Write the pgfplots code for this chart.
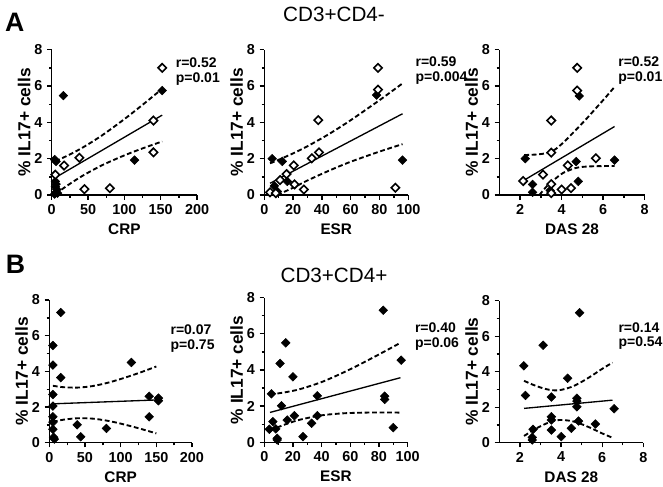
\documentclass[border=0pt]{standalone}
\usepackage{pgfplots}
\pgfplotsset{compat=1.18}
\usepackage{fontspec}
\setmainfont{Liberation Sans}
\tikzset{rp/.style={font=\fontsize{10.5}{12}\selectfont\bfseries, anchor=west, inner sep=0pt}}
\begin{document}
\begin{tikzpicture}
\path[use as bounding box] (0pt,0pt) rectangle (497.25pt,364.5pt);
\pgfplotsset{
  panel/.style={
    scale only axis,
    axis x line*=bottom, axis y line*=left,
    axis line style={line width=1.1pt,-},
    every tick/.style={black,line width=1pt},
    major tick length=3.5pt, minor tick length=2pt,
    tick align=outside,
    minor y tick num=1,
    ymin=0,ymax=8, ytick={0,2,4,6,8},
    /pgf/number format/assume math mode=true,
    ticklabel style={font=\fontsize{10.8}{12}\selectfont\bfseries},
    xlabel style={font=\fontsize{11.5}{13}\selectfont\bfseries},
    ylabel style={font=\fontsize{13}{15}\selectfont\bfseries},
    ylabel shift=-4pt,
    ylabel={\% IL17+ cells},
    clip=false,
  },
  filled/.style={only marks, mark=square*, mark size=2.3pt, mark options={rotate=45, fill=black, draw=black}},
  open/.style={only marks, mark=square*, mark size=2.2pt, mark options={rotate=45, fill=white, draw=black, line width=1.2pt}},
  fitline/.style={no marks, black, line width=1pt},
  band/.style={no marks, black, line width=1.4pt, dash pattern=on 3.6pt off 2pt, smooth},
}
\node[font=\fontsize{20}{22}\selectfont\bfseries, inner sep=0pt] at (11pt,347.6pt) {A};
\node[font=\fontsize{20}{22}\selectfont\bfseries, inner sep=0pt] at (11.6pt,166.5pt) {B};
\node[font=\fontsize{15.5}{17}\selectfont, inner sep=0pt] at (250.5pt,354pt) {CD3+CD4-};
\node[font=\fontsize{15.5}{17}\selectfont, inner sep=0pt] at (250.5pt,158.25pt) {CD3+CD4+};

% ---------- A1 CRP ----------
\begin{axis}[panel, at={(38.8pt,218.25pt)}, anchor=south west, width=109pt, height=109pt,
  xmin=0, xmax=200, xtick={0,50,100,150,200}, minor x tick num=1, xlabel={CRP}]
\addplot[band] coordinates {(5,1.857)(25,2.233)(45,2.668)(70,3.304)(100,4.178)(125,4.964)(152,5.846)};
\addplot[band] coordinates {(5,0.057)(25,0.617)(45,1.118)(70,1.652)(100,2.182)(125,2.566)(152,2.948)};
\addplot[fitline] coordinates {(5,0.957)(152,4.397)};
\addplot[filled] coordinates {(16,5.47)(152,5.75)(114,1.92)(4,1.95)(6,1.85)(5,0.75)(6,0.6)(5,0.45)(7,0.3)(6,0.15)(8,0.1)(4,0.05)};
\addplot[open] coordinates {(152,7.0)(140,4.1)(140,2.35)(38,2.05)(17,1.62)(5,1.12)(45,0.32)(80,0.37)};
\node[rp] at (rel axis cs:0.852,0.913) {r=0.52};
\node[rp] at (rel axis cs:0.852,0.800) {p=0.01};
\end{axis}

% ---------- A2 ESR ----------
\begin{axis}[panel, at={(198.2pt,218.25pt)}, anchor=south west, width=108pt, height=109pt,
  xmin=0, xmax=100, xtick={0,20,40,60,80,100}, minor x tick num=1, xlabel={ESR}]
\addplot[band] coordinates {(4,1.744)(10,1.939)(20,2.291)(30,2.685)(45,3.358)(60,4.117)(80,5.218)(96,6.142)};
\addplot[band] coordinates {(9,0.0)(20,0.40)(30,0.80)(45,1.34)(60,1.83)(80,2.39)(96,2.80)};
\addplot[fitline] coordinates {(4,0.644)(96,4.472)};
\addplot[filled] coordinates {(78,5.5)(5.5,2.0)(12.5,1.85)(96,1.92)(16,0.75)(7,0.5)(9,0.2)};
\addplot[open] coordinates {(79,7.0)(79,5.8)(37.5,4.12)(38,2.35)(33,2.02)(20.5,1.63)(15.5,1.15)(11,0.82)(21,0.58)(27.5,0.3)(91,0.4)(4,0.15)(8,0.1)};
\node[rp] at (rel axis cs:1.049,0.918) {r=0.59};
\node[rp] at (rel axis cs:1.049,0.805) {p=0.004};
\end{axis}

% ---------- A3 DAS ----------
\begin{axis}[panel, at={(374.5pt,218.25pt)}, anchor=south west, width=109pt, height=109pt,
  xmin=1, xmax=8, xtick={2,4,6,8}, minor xtick={3,5,7}, xlabel={DAS 28}]
\addplot[band] coordinates {(2.2,2.2)(2.9,2.24)(3.5,2.38)(4.0,2.8)(4.7,3.6)(5.2,4.2)(5.67,4.8)(6.1,5.35)(6.55,5.95)};
\addplot[band] coordinates {(2.93,0)(3.3,0.5)(3.7,0.9)(4.05,1.2)(4.5,1.42)(4.86,1.53)(5.5,1.58)(6.55,1.6)};
\addplot[fitline] coordinates {(2.2,0.82)(6.55,3.77)};
\addplot[filled] coordinates {(4.85,5.45)(2.25,2.0)(4.7,1.84)(6.55,1.92)(2.6,0.58)(2.6,0.15)(4.8,0.75)(3.45,0.25)};
\addplot[open] coordinates {(4.75,7.0)(4.75,5.75)(3.5,4.1)(3.5,2.33)(5.65,2.02)(4.3,1.63)(3.1,1.12)(2.15,0.77)(3.5,0.6)(4.0,0.3)(4.45,0.38)(3.5,0.1)};
\node[rp] at (rel axis cs:0.817,0.918) {r=0.52};
\node[rp] at (rel axis cs:0.817,0.805) {p=0.01};
\end{axis}

% ---------- B1 CRP ----------
\begin{axis}[panel, at={(37pt,32.5pt)}, anchor=south west, width=107pt, height=107pt,
  xmin=0, xmax=200, xtick={0,50,100,150,200}, minor x tick num=1, xlabel={CRP}]
\addplot[band] coordinates {(5,3.19)(20,3.11)(40,3.09)(60,3.17)(80,3.34)(100,3.57)(125,3.90)(150,4.27)};
\addplot[band] coordinates {(5,1.17)(20,1.29)(40,1.37)(60,1.35)(80,1.24)(100,1.07)(125,0.81)(150,0.52)};
\addplot[fitline] coordinates {(5,2.178)(150,2.395)};
\addplot[filled] coordinates {(16,7.3)(5,5.45)(5,4.35)(16,3.65)(5,2.7)(5,2.05)(5,1.45)(5,1.15)(5,0.75)(6,0.3)(7,0.2)(39,1.0)(44,0.33)(80,0.8)(115,4.5)(140,2.6)(140,1.45)(153,2.5)(153,2.35)};
\node[rp] at (rel axis cs:0.848,0.790) {r=0.07};
\node[rp] at (rel axis cs:0.848,0.678) {p=0.75};
\end{axis}

% ---------- B2 ESR ----------
\begin{axis}[panel, at={(198.2pt,32.8pt)}, anchor=south west, width=107.5pt, height=108.5pt,
  xmin=0, xmax=100, xtick={0,20,40,60,80,100}, minor x tick num=1, xlabel={ESR}]
\addplot[band] coordinates {(4,2.64)(15,2.77)(25,2.94)(40,3.33)(55,3.85)(70,4.44)(85,5.07)(95,5.50)};
\addplot[band] coordinates {(4,0.66)(15,1.0)(25,1.25)(40,1.49)(55,1.60)(70,1.64)(85,1.65)(95,1.64)};
\addplot[fitline] coordinates {(4,1.65)(95,3.57)};
\addplot[filled] coordinates {(83,7.3)(15,5.5)(11,4.36)(20,3.62)(5,2.68)(12,2.02)(6,1.14)(3.5,0.72)(8,0.74)(9,0.22)(9,0.13)(16,1.23)(21,1.47)(27,0.31)(33,1.05)(37,1.47)(37,2.57)(84,2.55)(84,2.37)(90,0.81)(95.5,4.54)};
\node[rp] at (rel axis cs:1.05,0.793) {r=0.40};
\node[rp] at (rel axis cs:1.05,0.681) {p=0.06};
\end{axis}

% ---------- B3 DAS ----------
\begin{axis}[panel, at={(374.5pt,32.5pt)}, anchor=south west, width=108pt, height=106.5pt,
  xmin=1, xmax=8, xtick={2,4,6,8}, minor xtick={3,5,7}, xlabel={DAS 28}]
\addplot[band] coordinates {(2.2,3.484)(2.8,3.188)(3.4,2.985)(3.9,2.955)(4.5,3.138)(5.0,3.426)(5.5,3.776)(6.0,4.16)(6.5,4.512)};
\addplot[band] coordinates {(2.2,0.378)(2.8,0.804)(3.4,1.137)(3.9,1.275)(4.5,1.222)(5.0,1.042)(5.5,0.798)(6.0,0.522)(6.5,0.278)};
\addplot[fitline] coordinates {(2.2,1.931)(6.5,2.395)};
\addplot[filled] coordinates {(4.9,7.32)(3.13,5.49)(2.19,4.33)(4.32,3.63)(2.27,2.66)(3.53,2.57)(4.77,2.5)(4.77,2.34)(4.77,2.02)(6.58,1.91)(3.53,1.46)(3.53,1.28)(3.53,0.71)(2.64,0.75)(4.85,1.22)(4.5,0.81)(5.67,1.05)(4.01,0.34)(2.6,0.3)(2.6,0.15)};
\node[rp] at (rel axis cs:0.826,0.813) {r=0.14};
\node[rp] at (rel axis cs:0.826,0.700) {p=0.54};
\end{axis}
\end{tikzpicture}
\end{document}
